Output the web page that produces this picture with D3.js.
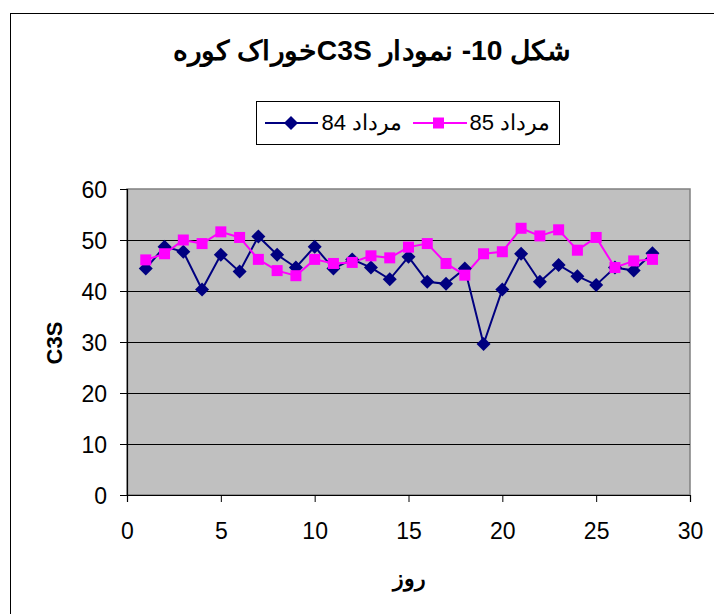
<!DOCTYPE html>
<html>
<head>
<meta charset="utf-8">
<script src="https://cdn.jsdelivr.net/npm/d3@7"></script>
<style>
  body { margin: 0; background: #fff; }
  svg { display: block; font-family: "Liberation Sans", Arial, sans-serif; }
</style>
</head>
<body>
<div id="chart"></div>
<script>
// Day numbers and C3S values
const days = d3.range(1, 29);
const mordad84 = [44.4, 48.7, 47.7, 40.3, 47.1, 43.8, 50.7, 47.1, 44.6, 48.7,
                  44.4, 46.2, 44.6, 42.3, 46.7, 41.8, 41.4, 44.4, 29.6, 40.3,
                  47.3, 41.8, 45.1, 42.9, 41.2, 44.6, 44.0, 47.4];
const mordad85 = [46.1, 47.3, 50.0, 49.3, 51.6, 50.5, 46.2, 44.0, 43.0, 46.2,
                  45.4, 45.6, 46.9, 46.5, 48.6, 49.3, 45.4, 43.1, 47.3, 47.7,
                  52.3, 50.8, 52.0, 48.0, 50.5, 44.6, 45.9, 46.2];
const xTicks = [0, 5, 10, 15, 20, 25, 30];
const yTicks = [0, 10, 20, 30, 40, 50, 60];

const width = 714, height = 614;
const margin = { left: 127, right: 24, top: 189, bottom: 119 };

const svg = d3.select("#chart").append("svg")
    .attr("width", width)
    .attr("height", height);

// Outer chart frame
svg.append("rect")
    .attr("x", 10.5).attr("y", 13.5)
    .attr("width", 720).attr("height", 620)
    .attr("fill", "none").attr("stroke", "#000").attr("stroke-width", 1);

const x = d3.scaleLinear().domain([0, 30]).range([margin.left, width - margin.right]);
const y = d3.scaleLinear().domain([0, 60]).range([height - margin.bottom, margin.top]);

// Plot area
svg.append("rect")
    .attr("x", x(0)).attr("y", y(60))
    .attr("width", x(30) - x(0)).attr("height", y(0) - y(60))
    .attr("fill", "#c0c0c0")
    .attr("stroke", "#808080").attr("stroke-width", 1.5);

// Gridlines
svg.append("g")
    .selectAll("line")
    .data(yTicks.filter(d => d > 0 && d < 60))
    .enter()
    .append("line")
    .attr("x1", x(0)).attr("x2", x(30))
    .attr("y1", d => Math.round(y(d)) + 0.5).attr("y2", d => Math.round(y(d)) + 0.5)
    .attr("stroke", "#000").attr("stroke-width", 1);

// Axes
const xAxis = svg.append("g")
    .attr("transform", `translate(0,${y(0)})`)
    .call(d3.axisBottom(x).tickValues(xTicks).tickSize(7).tickPadding(21));
const yAxis = svg.append("g")
    .attr("transform", `translate(${x(0)},0)`)
    .call(d3.axisLeft(y).tickValues(yTicks).tickSize(7).tickPadding(13));

[xAxis, yAxis].forEach(a => {
    a.select(".domain").attr("stroke", "#000").attr("stroke-width", 1.2);
    a.selectAll(".tick line").attr("stroke", "#000");
    a.selectAll(".tick text")
        .attr("fill", "#000")
        .attr("font-size", "23px")
        .attr("font-family", "'Liberation Sans', Arial, sans-serif");
});
yAxis.selectAll(".tick text").attr("dy", "0.35em");

// Lines
const line = d3.line().x((d, i) => x(days[i])).y(d => y(d));

svg.append("path")
    .datum(mordad84)
    .attr("fill", "none")
    .attr("stroke", "#000080")
    .attr("stroke-width", 2)
    .attr("d", line);

svg.append("path")
    .datum(mordad85)
    .attr("fill", "none")
    .attr("stroke", "#ff00ff")
    .attr("stroke-width", 2)
    .attr("d", line);

// Diamond markers (series 84)
svg.append("g")
    .selectAll("path")
    .data(mordad84)
    .enter()
    .append("path")
    .attr("d", "M0,-7L7,0L0,7L-7,0Z")
    .attr("transform", (d, i) => `translate(${x(days[i])},${y(d)})`)
    .attr("fill", "#000080");

// Square markers (series 85)
svg.append("g")
    .selectAll("rect")
    .data(mordad85)
    .enter()
    .append("rect")
    .attr("x", (d, i) => x(days[i]) - 5.5)
    .attr("y", d => y(d) - 5.5)
    .attr("width", 11).attr("height", 11)
    .attr("fill", "#ff00ff");

// Title
svg.append("text")
    .attr("x", 372).attr("y", 60)
    .attr("text-anchor", "middle")
    .attr("direction", "rtl")
    .attr("font-size", "27px")
    .attr("font-weight", "bold")
    .attr("textLength", 398)
    .attr("lengthAdjust", "spacingAndGlyphs")
    .text("شکل 10- نمودار C3Sخوراک کوره");

// Axis titles
svg.append("text")
    .attr("x", 409).attr("y", 586)
    .attr("text-anchor", "middle")
    .attr("font-size", "22px")
    .attr("font-weight", "bold")
    .text("روز");

svg.append("text")
    .attr("transform", "translate(62,343) rotate(-90)")
    .attr("text-anchor", "middle")
    .attr("font-size", "22px")
    .attr("font-weight", "bold")
    .text("C3S");

// Legend
const legend = svg.append("g");
legend.append("rect")
    .attr("x", 256.5).attr("y", 101.5)
    .attr("width", 303).attr("height", 43)
    .attr("fill", "#fff").attr("stroke", "#000").attr("stroke-width", 1);

legend.append("line")
    .attr("x1", 265).attr("x2", 318).attr("y1", 123).attr("y2", 123)
    .attr("stroke", "#000080").attr("stroke-width", 2);
legend.append("path")
    .attr("d", "M0,-7L7,0L0,7L-7,0Z")
    .attr("transform", "translate(291,123)")
    .attr("fill", "#000080");
legend.append("text")
    .attr("x", 402).attr("y", 130)
    .attr("text-anchor", "end")
    .attr("font-size", "22px")
    .text("مرداد 84");

legend.append("line")
    .attr("x1", 413).attr("x2", 467).attr("y1", 123).attr("y2", 123)
    .attr("stroke", "#ff00ff").attr("stroke-width", 2);
legend.append("rect")
    .attr("x", 433).attr("y", 117.5)
    .attr("width", 11).attr("height", 11)
    .attr("fill", "#ff00ff");
legend.append("text")
    .attr("x", 550).attr("y", 130)
    .attr("text-anchor", "end")
    .attr("font-size", "22px")
    .text("مرداد 85");
</script>
</body>
</html>
